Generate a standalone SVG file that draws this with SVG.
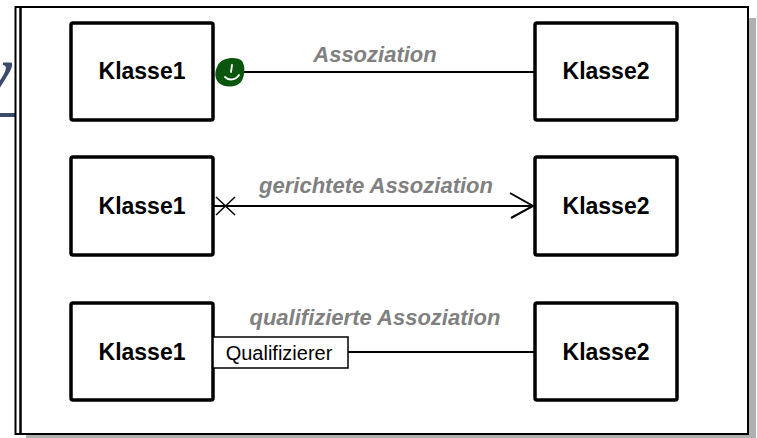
<svg xmlns="http://www.w3.org/2000/svg" width="757" height="438" viewBox="0 0 757 438">
<style>
.cls{fill:#fff;stroke:#000;stroke-width:3.5}
.ct{font-family:"Liberation Sans",Arial,sans-serif;font-weight:bold;font-size:23px;fill:#000;text-anchor:middle}
.lbl{font-family:"Liberation Sans",Arial,sans-serif;font-weight:bold;font-style:italic;font-size:22px;fill:#808080;text-anchor:middle}
.ln{stroke:#000;stroke-width:2;fill:none}
</style>
<defs>
<clipPath id="left"><rect x="0" y="0" width="15" height="438"/></clipPath>
</defs>
<g id="background">
<text x="-20" y="96" clip-path="url(#left)" style="font-family:'Liberation Serif',serif;font-style:italic;font-weight:bold;font-size:72px;fill:#3c4a6b">y</text>
<rect x="0" y="113" width="15" height="4" fill="#3c4a6b"/>
</g>
<g id="frame">
<rect x="749" y="18" width="7" height="420" fill="#b0b0b0"/>
<rect x="26" y="435" width="730" height="3" fill="#b0b0b0"/>
<rect x="15.5" y="7" width="732.5" height="427" fill="#fff" stroke="#000" stroke-width="2"/>
<line x1="20.5" y1="7" x2="20.5" y2="434" stroke="#000" stroke-width="2.5"/>
</g>
<g id="connectors">
<line class="ln" x1="243" y1="72" x2="535" y2="72"/>
<line class="ln" x1="213" y1="206" x2="535" y2="206"/>
<path class="ln" d="M510,193 L533,206 L511,218"/>
<path d="M216,197 L235,215 M216,215 L235,197" stroke="#000" stroke-width="1.5" fill="none"/>
<line class="ln" x1="348" y1="352" x2="535" y2="352"/>
<path d="M218,65 C221,58 235,56 241,60 C246,64 245,77 241,82 C236,88 223,88 218,82 C214,77 215,70 218,65 Z" fill="#0b560f"/>
<path d="M232,65 L231,72 M225,77 C229,81 236,80 239,75" stroke="#fff" stroke-width="1.8" fill="none" stroke-linecap="round"/>
<text class="lbl" x="375" y="62">Assoziation</text>
<text class="lbl" x="376" y="193">gerichtete Assoziation</text>
<text class="lbl" x="375" y="325">qualifizierte Assoziation</text>
</g>
<g id="k1a"><rect class="cls" x="71" y="23" width="142" height="97" rx="2"/><text class="ct" x="142" y="79">Klasse1</text></g>
<g id="k2a"><rect class="cls" x="535" y="23" width="142" height="97" rx="2"/><text class="ct" x="606" y="79">Klasse2</text></g>
<g id="k1b"><rect class="cls" x="71" y="157" width="142" height="98" rx="2"/><text class="ct" x="142" y="214">Klasse1</text></g>
<g id="k2b"><rect class="cls" x="535" y="157" width="142" height="98" rx="2"/><text class="ct" x="606" y="214">Klasse2</text></g>
<g id="k1c"><rect class="cls" x="71" y="303" width="142" height="97" rx="2"/><text class="ct" x="142" y="360">Klasse1</text></g>
<g id="k2c"><rect class="cls" x="535" y="303" width="142" height="97" rx="2"/><text class="ct" x="606" y="360">Klasse2</text></g>
<g id="qualifier"><rect x="213" y="337" width="135" height="31" fill="#fff" stroke="#000" stroke-width="1.5"/><text x="279" y="360" style="font-family:'Liberation Sans',Arial,sans-serif;font-size:20px;fill:#000;text-anchor:middle">Qualifizierer</text></g>
</svg>
